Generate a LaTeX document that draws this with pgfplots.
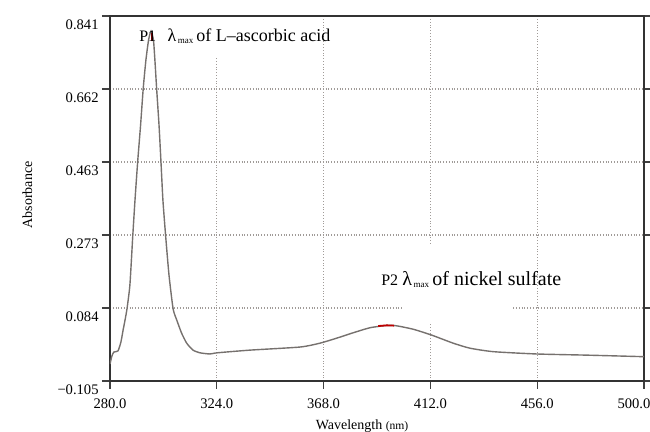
\documentclass[border=0pt]{standalone}
\usepackage{fontspec}
\setmainfont{Liberation Serif}
\usepackage{pgfplots}
\pgfplotsset{compat=1.18}

\definecolor{curve}{RGB}{118,113,110}
\definecolor{gridc}{RGB}{160,155,152}

\begin{document}
\begin{tikzpicture}
\useasboundingbox (-55pt,-25.5pt) rectangle (270pt,190.5pt);
\begin{axis}[
  scale only axis, width=267pt, height=182.5pt,
  xmin=280, xmax=500, ymin=-0.105, ymax=0.841,
  xtick={280,324,368,412,456,500},
  xticklabels={280.0,324.0,368.0,412.0,456.0,\hspace*{-10pt}500.0},
  ytick={-0.105,0.0842,0.2734,0.4626,0.6518,0.841},
  yticklabels={−0.105,0.084,0.273,0.463,0.662,0.841},
  tick align=outside, xtick pos=lower, ytick pos=both,
  major tick length=4pt,
  tick style={black!75, line width=0.6pt},
  grid=major, grid style={gridc, densely dotted, line width=0.6pt},
  axis line style={black!80, line width=1pt},
  ticklabel style={font=\fontsize{7.3}{8}\selectfont, inner sep=0pt},
  yticklabel style={anchor=north east, xshift=-1.5pt, yshift=-1.5pt},
  xticklabel style={anchor=north, yshift=-4.5pt},
  xlabel={Wavelength {\fontsize{5.8}{6}\selectfont(nm)}},
  ylabel={Absorbance},
  label style={font=\fontsize{7}{8}\selectfont},
  xlabel style={at={(axis description cs:0.472,-0.1235)}, anchor=center},
  ylabel style={at={(axis description cs:-0.155,0.51)}, anchor=center},
]
% gaps in the grid round the labels
\fill[white] (axis cs:321.5,0.733) rectangle (axis cs:326.5,0.835);
\fill[white] (axis cs:400.7,0.078) rectangle (axis cs:446,0.090);
\fill[white] (axis cs:410,0.048) rectangle (axis cs:414,0.250);

\addplot[curve, line width=0.7pt, smooth, tension=0.35] coordinates {
(280.0,-0.061) (280.8,-0.040) (281.6,-0.030) (283.3,-0.027) (284.5,-0.004)
(285.4,0.027) (286.2,0.053) (287.0,0.082) (288.2,0.144) (289.4,0.273)
(290.3,0.364) (291.4,0.463) (292.6,0.558) (293.7,0.654) (294.8,0.727)
(295.9,0.779) (296.9,0.802) (297.9,0.779) (298.5,0.727) (299.2,0.654)
(300.2,0.558) (301.0,0.463) (301.8,0.364) (302.9,0.273) (304.3,0.170)
(306.0,0.082) (307.5,0.053) (309.5,0.019) (311.6,-0.007) (314.2,-0.025)
(317.1,-0.032) (321.2,-0.035) (324.1,-0.032) (337.7,-0.025) (358.3,-0.017)
(366.5,-0.007) (373.4,0.006) (380.2,0.020) (387.1,0.033) (394.0,0.039)
(398.1,0.038) (405.0,0.029) (412.5,0.014) (421.4,-0.007) (428.3,-0.020)
(437.9,-0.029) (455.8,-0.035) (476.4,-0.038) (500.0,-0.042)
};
% red markers at the two maxima
\addplot[red!75!black, line width=0.9pt] coordinates {(390.5,0.0375) (394,0.0392) (397,0.0385)};
\addplot[red!75!black, line width=0.8pt] coordinates {(297.2,0.775) (297.2,0.798)};

\node[anchor=base west, inner sep=0pt, font=\fontsize{8}{9}\selectfont] at (axis cs:291.9,0.774) {P1};
\node[anchor=base west, inner sep=0pt, font=\fontsize{9}{10}\selectfont] at (axis cs:303.6,0.774)
  {λ\raisebox{-0.25ex}{\fontsize{4.5}{5}\selectfont\,max}\,of L–ascorbic acid};
\node[anchor=base west, inner sep=0pt, font=\fontsize{8}{9}\selectfont] at (axis cs:391.6,0.142) {P2};
\node[anchor=base west, inner sep=0pt, font=\fontsize{10}{11}\selectfont] at (axis cs:400.3,0.142)
  {λ\raisebox{-0.25ex}{\fontsize{4.5}{5}\selectfont\,max}\,of nickel sulfate};
\end{axis}
\end{tikzpicture}
\end{document}
